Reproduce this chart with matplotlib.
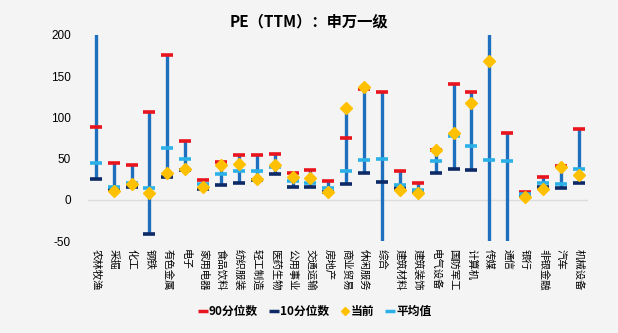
import matplotlib.pyplot as plt
from matplotlib.lines import Line2D
import numpy as np

plt.rcParams['font.family'] = ['Noto Sans CJK SC', 'DejaVu Sans']

categories = ['农林牧渔', '采掘', '化工', '钢铁', '有色金属', '电子', '家用电器', '食品饮料',
              '纺织服装', '轻工制造', '医药生物', '公用事业', '交通运输', '房地产', '商业贸易',
              '休闲服务', '综合', '建筑材料', '建筑装饰', '电气设备', '国防军工', '计算机',
              '传媒', '通信', '银行', '非银金融', '汽车', '机械设备']
p90 = [88, 45, 42, 106, 176, 71, 24, 46, 54, 54, 56, 32, 36, 23, 75, 134,
       131, 35, 20, 60, 141, 131, 260, 81, 9, 28, 41, 86]
p10 = [25, 13, 15, -42, 28, 36, 13, 18, 21, 24, 31, 16, 15, 9, 19, 32,
       22, 14, 9, 33, 38, 36, -70, -60, 6, 16, 14, 21]
current = [250, 11, 19, 8, 32, 38, 16, 42, 43, 25, 42, 28, 27, 10, 112, 137,
           -80, 12, 8, 61, 81, 118, 168, -90, 4, 13, 40, 30]
mean = [45, 16, 21, 14, 63, 49, 19, 31, 35, 35, 40, 23, 20, 14, 35, 48,
        50, 18, 12, 47, 77, 65, 48, 47, 7, 20, 19, 38]

x = np.arange(len(categories))
lo = np.minimum(p10, current)
hi = np.maximum(p90, current)

fig = plt.figure(figsize=(6.18, 3.33), dpi=100)
fig.patch.set_facecolor('#f4f4f4')
ax = fig.add_axes([0.142, 0.276, 0.809, 0.619])
ax.set_facecolor('#f4f4f4')

ax.axhline(0, color='#dcdcdc', lw=1, zorder=0)
ax.vlines(x, lo, hi, color='#1f6fbf', lw=2.4, zorder=1)
ax.plot(x, p90, ls='none', marker='_', ms=9, mew=2.6, color='#e8141e', zorder=2)
ax.plot(x, p10, ls='none', marker='_', ms=9, mew=2.6, color='#0d2a66', zorder=2)
ax.plot(x, current, ls='none', marker='D', ms=6, color='#ffc000', zorder=4)
ax.plot(x, mean, ls='none', marker='_', ms=9, mew=2.6, color='#2bb1e8', zorder=3)

ax.set_ylim(-50, 200)
ax.set_xlim(-0.45, 27.5)
ax.set_yticks([-50, 0, 50, 100, 150, 200])
ax.set_yticklabels(['-50', '0', '50', '100', '150', '200'], family='Liberation Sans')
ax.tick_params(axis='y', length=0, labelsize=8.5, pad=12)
ax.set_xticks(x)
ax.set_xticklabels(categories, fontsize=7.5, rotation=-90, va='top', ha='center')
ax.tick_params(axis='x', length=0, pad=6)
for s in ax.spines.values():
    s.set_visible(False)

fig.text(0.5, 0.935, 'PE（TTM）：申万一级', ha='center', va='center',
         fontsize=11, fontweight='bold')

handles = [
    Line2D([], [], ls='none', marker='_', ms=7, mew=2.5, color='#e8141e'),
    Line2D([], [], ls='none', marker='_', ms=7, mew=2.5, color='#0d2a66'),
    Line2D([], [], ls='none', marker='D', ms=4, color='#ffc000'),
    Line2D([], [], ls='none', marker='_', ms=7, mew=2.5, color='#2bb1e8'),
]
fig.legend(handles, ['90分位数', '10分位数', '当前', '平均值'], loc='center',
           bbox_to_anchor=(0.51, 0.065), ncol=4, frameon=False,
           handlelength=0.7, handletextpad=0.15, columnspacing=1.0,
           prop={'weight': 'bold', 'size': 8.5})

fig.savefig('out.png', dpi=100, facecolor=fig.get_facecolor())
